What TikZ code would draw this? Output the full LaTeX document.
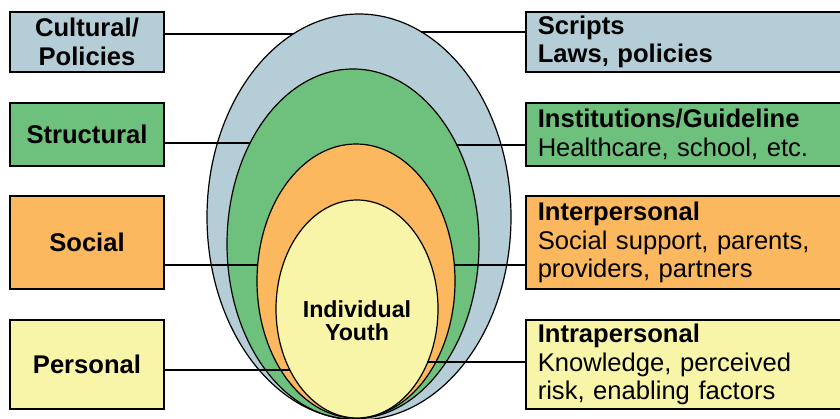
\documentclass[tikz,border=0pt]{standalone}
\usepackage{fontspec}
\setmainfont{Liberation Sans}
\definecolor{blueL}{RGB}{181,205,214}
\definecolor{greenL}{RGB}{110,192,125}
\definecolor{orangeL}{RGB}{251,184,94}
\definecolor{yellowL}{RGB}{248,244,168}
\begin{document}
\begin{tikzpicture}[x=1pt, y=-1pt,
  lbox/.style={draw, line width=1.5pt, minimum width=154pt, align=center,
    font=\fontsize{25.6}{28.5}\selectfont\bfseries},
  rbox/.style={draw, line width=1.5pt, anchor=west, text width=300pt, inner xsep=12pt,
    align=left, font=\fontsize{25.6}{28.5}\selectfont},
  ring/.style={draw, line width=1.2pt}]
\useasboundingbox (0,0) rectangle (840,419);
\fill[white] (0,0) rectangle (840,419);
% nested levels
\draw[ring, fill=blueL] (359,217) ellipse (152pt and 203pt);
\draw[ring, fill=greenL] (353,244) ellipse (126pt and 175pt);
\draw[ring, fill=orangeL] (356,281) ellipse (99pt and 137pt);
\draw[ring, fill=yellowL] (357,309) ellipse (81pt and 109pt);
\node[font=\fontsize{23.2}{23}\selectfont\bfseries, align=center] (yid) at (357,321) {Individual\\Youth};
% left labels
\node[lbox, fill=blueL, minimum height=60pt] (lb0) at (87,42) {Cultural/\\Policies};
\node[lbox, fill=greenL, minimum height=63pt] (lb1) at (87,134.5) {Structural};
\node[lbox, fill=orangeL, minimum height=93pt] (lb2) at (87,242.5) {Social};
\node[lbox, fill=yellowL, minimum height=89pt] (lb3) at (87,364.5) {Personal};
% right labels
\node[rbox, fill=blueL, minimum height=60pt] (rb0) at (525,42) {\textbf{Scripts}\\\textbf{Laws, policies}};
\node[rbox, fill=greenL, minimum height=63pt] (rb1) at (525,134.5) {\textbf{Institutions/Guideline}\\Healthcare, school, etc.};
\node[rbox, fill=orangeL, minimum height=93pt] (rb2) at (525,242.5) {\textbf{Interpersonal}\\Social support, parents,\\providers, partners};
\node[rbox, fill=yellowL, minimum height=89pt] (rb3) at (525,364.5) {\textbf{Intrapersonal}\\Knowledge, perceived\\risk, enabling factors};
% ends on the rings
\coordinate (lp0) at (293,34);
\coordinate (rp0) at (421,32);
\coordinate (lp1) at (250,143);
\coordinate (rp1) at (456,145);
\coordinate (lp2) at (258,265);
\coordinate (rp2) at (454,265);
\coordinate (lp3) at (290,370);
\coordinate (rp3) at (427,362);
\draw[line width=1.2pt] (lb0.east |- lp0) -- (lp0);
\draw[line width=1.2pt] (rp0) -- (rp0 -| rb0.west);
\draw[line width=1.2pt] (lb1.east |- lp1) -- (lp1);
\draw[line width=1.2pt] (rp1) -- (rp1 -| rb1.west);
\draw[line width=1.2pt] (lb2.east |- lp2) -- (lp2);
\draw[line width=1.2pt] (rp2) -- (rp2 -| rb2.west);
\draw[line width=1.2pt] (lb3.east |- lp3) -- (lp3);
\draw[line width=1.2pt] (rp3) -- (rp3 -| rb3.west);
\end{tikzpicture}
\end{document}
